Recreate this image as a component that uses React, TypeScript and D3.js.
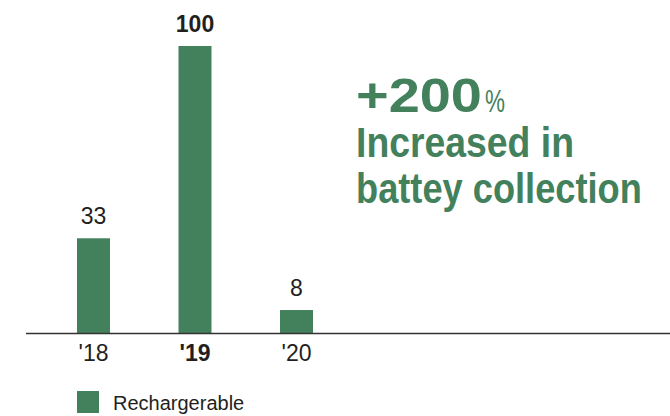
import React, { useLayoutEffect, useRef, useState } from "react";
import * as d3 from "d3";

const categories = ["'18", "'19", "'20"];
const values = [33, 100, 8];
const highlight = "'19";
const seriesName = "Rechargerable";
const headline = "+200";
const headlineUnit = "%";
const subLines = ["Increased in", "battey collection"];

const W = 670;
const H = 416;
const GREEN = "#43805c";
const TEXT = "#231f20";
const SANS = "'Liberation Sans', Arial, sans-serif";
const NARROW = "'Liberation Sans Narrow', 'Liberation Sans', Arial, sans-serif";

function FitText(props: {
  x: number; y: number; width: number; fontSize: number; fontWeight: number;
  fontFamily: string; fill: string; children: string;
}) {
  const ref = useRef<SVGTextElement>(null);
  const [k, setK] = useState(1);
  useLayoutEffect(() => {
    if (ref.current) {
      const len = ref.current.getComputedTextLength();
      if (len > 0) setK(props.width / len);
    }
  }, [props.width, props.children]);
  return (
    <text ref={ref} transform={`translate(${props.x},${props.y}) scale(${k},1)`}
      fontFamily={props.fontFamily} fontSize={props.fontSize} fontWeight={props.fontWeight}
      fill={props.fill}>{props.children}</text>
  );
}

export default function App() {
  const x = d3.scaleBand<string>().domain(categories).range([77, 313]).paddingInner(0.675).paddingOuter(0);
  const y = d3.scaleLinear().domain([0, 100]).range([333, 46]);
  const bw = x.bandwidth();

  return (
    <svg width={W} height={H} style={{ position: "absolute", left: 0, top: 0, background: "#fff" }}>
      {categories.map((c, i) => {
        const cx = (x(c) as number) + bw / 2;
        const bold = c === highlight;
        return (
          <g key={c}>
            <rect x={x(c)} y={y(values[i])} width={bw} height={y(0) - y(values[i])} fill={GREEN} />
            <text x={cx} y={y(values[i]) - 14} textAnchor="middle" fontFamily={SANS} fontSize={23}
              fontWeight={bold ? 700 : 400} fill={TEXT}>{values[i]}</text>
            <text x={cx} y={361} textAnchor="middle" fontFamily={SANS} fontSize={23}
              fontWeight={bold ? 700 : 400} fill={TEXT}>{c}</text>
          </g>
        );
      })}
      <line x1={26} x2={670} y1={y(0) + 0.5} y2={y(0) + 0.5} stroke="#333" strokeWidth={1.5} />

      <rect x={77} y={391} width={22} height={22} fill={GREEN} />
      <text x={113} y={410} fontFamily={SANS} fontSize={20} fill={TEXT}>{seriesName}</text>

      <FitText x={356} y={112} width={126} fontFamily={SANS} fontSize={48} fontWeight={700} fill={GREEN}>{headline}</FitText>
      <FitText x={485} y={112} width={20} fontFamily={SANS} fontSize={31} fontWeight={400} fill={GREEN}>{headlineUnit}</FitText>
      <FitText x={356} y={157} width={218} fontFamily={NARROW} fontSize={43} fontWeight={700} fill={GREEN}>{subLines[0]}</FitText>
      <FitText x={356} y={203} width={286} fontFamily={NARROW} fontSize={43} fontWeight={700} fill={GREEN}>{subLines[1]}</FitText>
    </svg>
  );
}
